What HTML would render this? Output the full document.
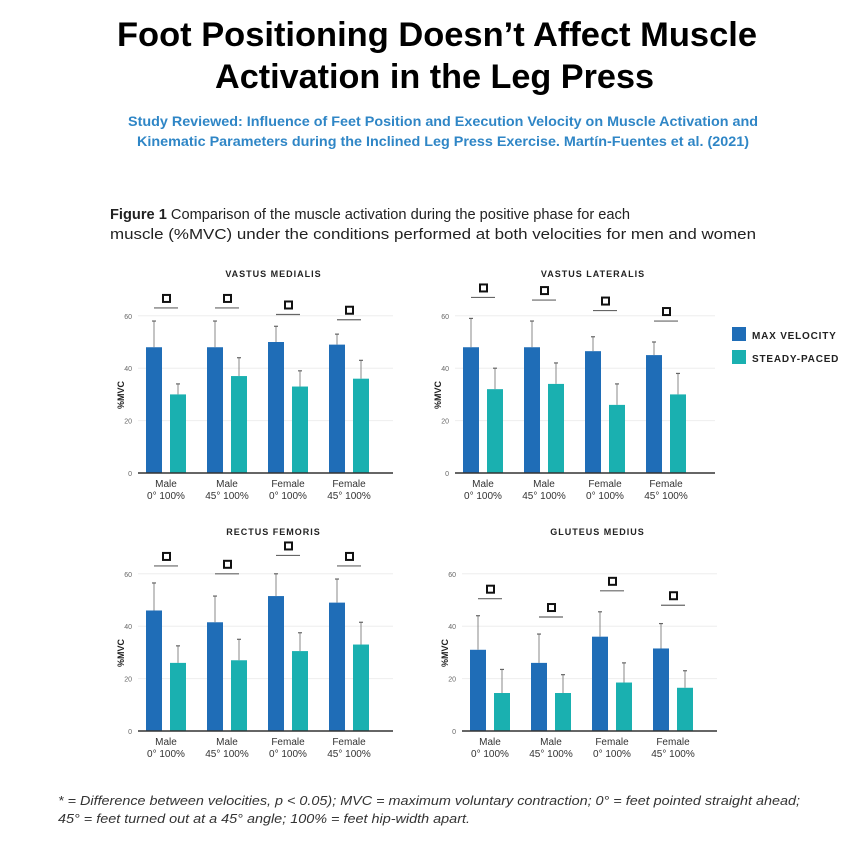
<!DOCTYPE html>
<html><head><meta charset="utf-8"><style>
html,body{margin:0;padding:0;background:#fff;}
svg{display:block;}
</style></head><body>
<svg id="chart" width="868" height="843" xmlns="http://www.w3.org/2000/svg" font-family="Liberation Sans, sans-serif">
<text x="117" y="46" font-size="34" font-weight="bold" textLength="640" lengthAdjust="spacingAndGlyphs" font-family="Liberation Sans Narrow, Liberation Sans, sans-serif">Foot Positioning Doesn’t Affect Muscle</text>
<text x="215" y="88" font-size="34" font-weight="bold" textLength="439" lengthAdjust="spacingAndGlyphs" font-family="Liberation Sans Narrow, Liberation Sans, sans-serif">Activation in the Leg Press</text>
<text x="128" y="126" font-size="14" font-weight="bold" fill="#2f86c6" textLength="630" lengthAdjust="spacingAndGlyphs">Study Reviewed: Influence of Feet Position and Execution Velocity on Muscle Activation and</text>
<text x="137" y="146" font-size="14" font-weight="bold" fill="#2f86c6" textLength="612" lengthAdjust="spacingAndGlyphs">Kinematic Parameters during the Inclined Leg Press Exercise. Martín-Fuentes et al. (2021)</text>
<text x="110" y="219" font-size="15" fill="#222" textLength="520" lengthAdjust="spacingAndGlyphs"><tspan font-weight="bold">Figure 1</tspan>  Comparison of the muscle activation during the positive phase for each</text>
<text x="110" y="239" font-size="15" fill="#222" textLength="646" lengthAdjust="spacingAndGlyphs">muscle (%MVC) under the conditions performed at both velocities for men and women</text>
<g id="panels"></g>
<rect x="732" y="327" width="14" height="14" fill="#1f6db7"/>
<text x="752" y="339" font-size="10" font-weight="bold" letter-spacing="0.8" fill="#222">MAX VELOCITY</text>
<rect x="732" y="350" width="14" height="14" fill="#1ab0b0"/>
<text x="752" y="362" font-size="10" font-weight="bold" letter-spacing="0.8" fill="#222">STEADY-PACED</text>
<text x="58" y="805" font-size="13" font-style="italic" fill="#333" textLength="742" lengthAdjust="spacingAndGlyphs">* = Difference between velocities, p &lt; 0.05); MVC = maximum voluntary contraction; 0° = feet pointed straight ahead;</text>
<text x="58" y="823" font-size="13" font-style="italic" fill="#333" textLength="412" lengthAdjust="spacingAndGlyphs">45° = feet turned out at a 45° angle; 100% = feet hip-width apart.</text>
</svg>
<script>
const categories = [["Male","0° 100%"],["Male","45° 100%"],["Female","0° 100%"],["Female","45° 100%"]];
const yTicks = [0,20,40,60];
const panelTitles = ["VASTUS MEDIALIS","VASTUS LATERALIS","RECTUS FEMORIS","GLUTEUS MEDIUS"];
const maxVelocity = [[48,48,50,49],[48,48,46.5,45],[46,41.5,51.5,49],[31,26,36,31.5]];
const maxVelocityErr = [[58,58,56,53],[59,58,52,50],[56.5,51.5,60,58],[44,37,45.5,41]];
const steadyPaced = [[30,37,33,36],[32,34,26,30],[26,27,30.5,33],[14.5,14.5,18.5,16.5]];
const steadyPacedErr = [[34,44,39,43],[40,42,34,38],[32.5,35,37.5,41.5],[23.5,21.5,26,23]];
const sigLevels = [[63,63,60.5,58.5],[67,66,62,58],[63,60,67,63],[50.5,43.5,53.5,48]];

const NS="http://www.w3.org/2000/svg";
const root=document.getElementById('panels');
const layout=[{x0:138,x1:393,y0:473},{x0:455,x1:715,y0:473},{x0:138,x1:393,y0:731},{x0:462,x1:717,y0:731}];
function mk(tag,attrs,parent){const e=document.createElementNS(NS,tag);for(const k in attrs)e.setAttribute(k,attrs[k]);(parent||root).appendChild(e);return e;}
layout.forEach((L,p)=>{
  const g=mk('g',{});
  
  
  const yScale=v=>L.y0-v*2.62;
  const xScale=i=>L.x0+8+i*61;
  const t=mk('text',{x:(L.x0+L.x1)/2+8,y:L.y0-196,'font-size':9,'font-weight':'bold','text-anchor':'middle','letter-spacing':'1',fill:'#222'},g);
  t.textContent=panelTitles[p];
  
  
  const yl=mk('text',{x:0,y:0,'font-size':9,'font-weight':'bold','text-anchor':'middle',fill:'#222',transform:`translate(${L.x0-14},${L.y0-78}) rotate(-90)`},g);
  yl.textContent='%MVC';
  
  
  yTicks.forEach(v=>{
    if(v>0){const gl=mk('line',{x1:L.x0,x2:L.x1,y1:yScale(v),y2:yScale(v),stroke:'#eee','stroke-width':1},g);
      
      }
    const tl=mk('text',{x:L.x0-6,y:yScale(v)+3,'font-size':7,'text-anchor':'end',fill:'#666'},g);
    tl.textContent=v;
    
    
  });
  categories.forEach((c,i)=>{
    const bx=xScale(i);
    [[maxVelocity,maxVelocityErr,'#1f6db7',0,'bar-max-velocity'],[steadyPaced,steadyPacedErr,'#1ab0b0',24,'bar-steady-paced']].forEach(([vals,errs,col,off,nm])=>{
      const v=vals[p][i],e=errs[p][i],x=bx+off;
      const r=mk('rect',{x:x,y:yScale(v),width:16,height:yScale(0)-yScale(v),fill:col},g);
      
      
      const el=mk('line',{x1:x+8,x2:x+8,y1:yScale(v),y2:yScale(e),stroke:'#888','stroke-width':1},g);
      
      
      const ec=mk('line',{x1:x+6,x2:x+10,y1:yScale(e),y2:yScale(e),stroke:'#666','stroke-width':1.2},g);
      
      
    });
    const sy=yScale(sigLevels[p][i]);
    const sl=mk('line',{x1:bx+8,x2:bx+32,y1:sy,y2:sy,stroke:'#666','stroke-width':1.2},g);
    
    
    const sm=mk('rect',{x:bx+17,y:sy-13,width:7,height:7,fill:'#fff',stroke:'#111','stroke-width':2},g);
    
    
    c.forEach((line,k)=>{
      const xl=mk('text',{x:bx+20,y:L.y0+14+k*12,'font-size':10,'text-anchor':'middle',fill:'#333'},g);
      xl.textContent=line;
      
      
    });
  });
  const ax=mk('line',{x1:L.x0,x2:L.x1,y1:L.y0,y2:L.y0,stroke:'#333','stroke-width':1.5},g);
  
  
});
</script>
</body></html>
